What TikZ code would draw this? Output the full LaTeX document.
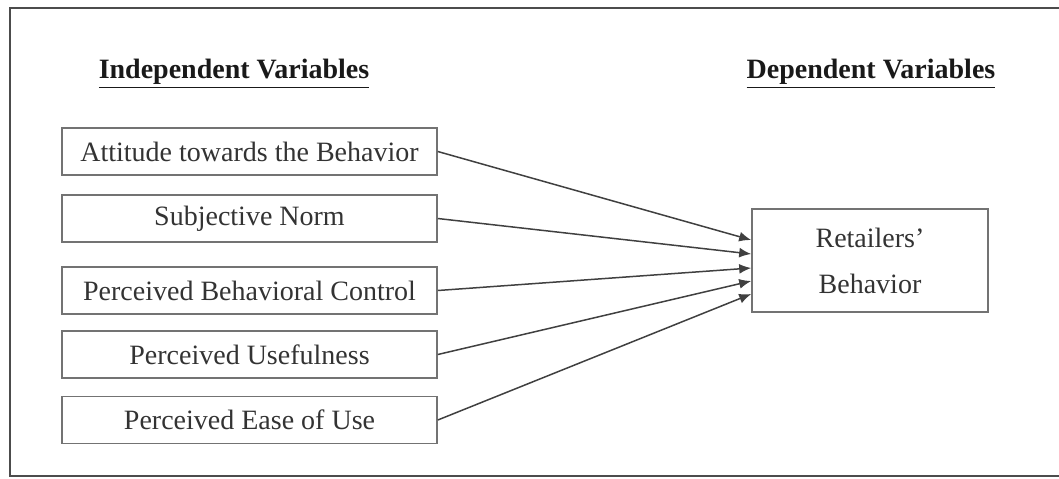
\documentclass[tikz,border=0pt]{standalone}
\usepackage{fontspec}
\setmainfont{Liberation Serif}
\usetikzlibrary{arrows.meta,calc}
\begin{document}
\begin{tikzpicture}[x=0.5pt, y=-0.5pt,
  var/.style={draw=black!55, line width=0.8pt, minimum width=187.5pt, minimum height=23.5pt, inner sep=0pt, font=\fontsize{14}{16}\selectfont, text=black!80},
  head/.style={font=\bfseries\fontsize{14}{16}\selectfont, text=black!90},
  link/.style={-{Latex[length=6pt,width=5pt]}, draw=black!75, line width=0.75pt}]
\useasboundingbox (0,0) rectangle (1059,478);
\draw[draw=black!70, line width=1.1pt] (1059,8) -- (10,8) -- (10,476) -- (1059,476);
% headings
\node[head] (ih) at (234,74) {\underline{Independent Variables}};
\node[head] (dh) at (871,74) {\underline{Dependent Variables}};
% independent variables
\node[var] (att) at (249.5,151.5) {Attitude towards the Behavior};
\node[var] (sn) at (249.5,218.5) {Subjective Norm};
\node[var] (pbc) at (249.5,290.5) {Perceived Behavioral Control};
\node[var] (pu) at (249.5,354.5) {Perceived Usefulness};
\node[var] (peou) at (249.5,420) {Perceived Ease of Use};
% dependent variable
\node[var, minimum width=118pt, minimum height=51.5pt, align=center] (rb) at (870,260.5) {Retailers’\\[7pt]Behavior};
\draw[link] (att.east) -- ($(rb.west)+(0,-20.5)$);
\draw[link] (sn.east) -- ($(rb.west)+(0,-6.5)$);
\draw[link] (pbc.east) -- ($(rb.west)+(0,7.5)$);
\draw[link] (pu.east) -- ($(rb.west)+(0,20.5)$);
\draw[link] (peou.east) -- ($(rb.west)+(0,33.5)$);
\end{tikzpicture}
\end{document}
